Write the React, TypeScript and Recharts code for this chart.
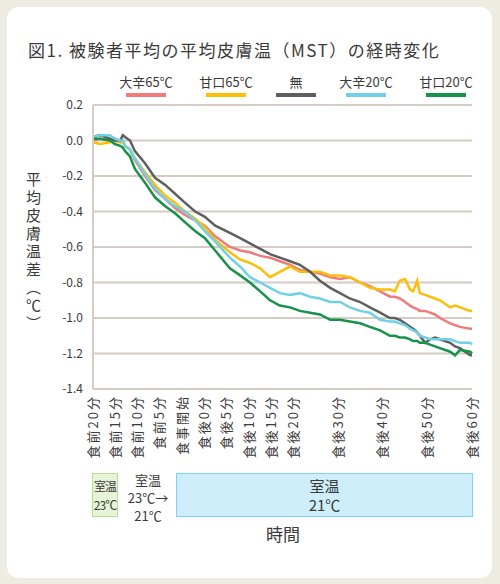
import React from 'react';
import { CartesianGrid, Line, LineChart, XAxis, YAxis } from 'recharts';

// sample times, minutes from 食前20分 (食事開始 = 20, 食後0分 = 25)
const minutes = [
	0, 1.6, 3.8, 4.9, 6.1, 6.7, 7.2, 8.3, 9.4, 11.7, 13.9, 16.2, 18.4, 20.6, 22.9, 25.1, 27.4,
	30.7, 33.0, 35.2, 37.5, 39.7, 41.9, 44.2, 46.4, 48.7, 50.9, 53.2, 55.4, 57.6, 59.9, 62.1,
	64.4, 66.6, 67.7, 68.8, 70.0, 71.1, 71.8, 72.7, 73.3, 74.5, 75.6, 76.7, 77.8, 80.1, 81.2,
	82.3, 84.6, 85,
];

const karaHot = [
	0.0, 0.01, 0.0, 0.01, -0.01, 0.0, -0.03, -0.05, -0.11, -0.2, -0.28, -0.33, -0.38, -0.42, -0.45,
	-0.48, -0.54, -0.6, -0.62, -0.63, -0.65, -0.66, -0.68, -0.7, -0.73, -0.74, -0.75, -0.77, -0.78,
	-0.77, -0.8, -0.82, -0.85, -0.88, -0.88, -0.89, -0.91, -0.93, -0.94, -0.95, -0.96, -0.96, -0.97,
	-0.98, -1.0, -1.03, -1.04, -1.05, -1.06, -1.06,
];
const amaHot = [
	-0.01, -0.02, -0.01, 0.0, -0.01, -0.01, -0.03, -0.05, -0.1, -0.18, -0.25, -0.31, -0.35, -0.4,
	-0.44, -0.49, -0.56, -0.63, -0.67, -0.69, -0.72, -0.77, -0.74, -0.71, -0.74, -0.74, -0.74, -0.76,
	-0.76, -0.77, -0.8, -0.83, -0.84, -0.84, -0.85, -0.79, -0.78, -0.84, -0.85, -0.79, -0.86, -0.87,
	-0.88, -0.89, -0.9, -0.94, -0.93, -0.94, -0.96, -0.96,
];
const none = [
	0.02, 0.03, 0.01, 0.0, 0.0, 0.03, 0.02, 0.0, -0.06, -0.13, -0.21, -0.25, -0.3, -0.35, -0.4, -0.43,
	-0.48, -0.52, -0.55, -0.58, -0.61, -0.64, -0.66, -0.68, -0.7, -0.74, -0.79, -0.83, -0.86, -0.89,
	-0.91, -0.94, -0.97, -1.0, -1.0, -1.01, -1.03, -1.05, -1.06, -1.08, -1.1, -1.14, -1.12, -1.11,
	-1.12, -1.14, -1.16, -1.17, -1.21, -1.21,
];
const karaCold = [
	0.02, 0.03, 0.03, 0.01, 0.0, 0.0, -0.03, -0.05, -0.1, -0.19, -0.27, -0.33, -0.37, -0.4, -0.45,
	-0.51, -0.57, -0.66, -0.71, -0.77, -0.8, -0.83, -0.86, -0.87, -0.86, -0.88, -0.89, -0.91, -0.91,
	-0.94, -0.96, -0.97, -1.01, -1.02, -1.02, -1.03, -1.04, -1.06, -1.07, -1.08, -1.1, -1.11, -1.12,
	-1.12, -1.12, -1.12, -1.13, -1.14, -1.14, -1.15,
];
const amaCold = [
	0.01, 0.01, 0.0, -0.02, -0.03, -0.04, -0.06, -0.09, -0.16, -0.24, -0.32, -0.37, -0.41, -0.46,
	-0.51, -0.55, -0.62, -0.72, -0.76, -0.8, -0.85, -0.9, -0.93, -0.94, -0.96, -0.97, -0.98, -1.01,
	-1.01, -1.02, -1.03, -1.05, -1.07, -1.1, -1.1, -1.11, -1.11, -1.12, -1.13, -1.13, -1.14, -1.14,
	-1.15, -1.16, -1.17, -1.19, -1.21, -1.18, -1.19, -1.2,
];

const xTicks = [0, 5, 10, 15, 20, 25, 30, 35, 40, 45, 55, 65, 75, 85];
const xLabels = [
	'食前20分', '食前15分', '食前10分', '食前5分', '食事開始', '食後0分', '食後5分',
	'食後10分', '食後15分', '食後20分', '食後30分', '食後40分', '食後50分', '食後60分',
];
const yTicks = [0.2, 0, -0.2, -0.4, -0.6, -0.8, -1.0, -1.2, -1.4];

const series = [
	{ key: 'karaHot', name: '大辛65℃', color: '#f07b7b', values: karaHot, cx: 146 },
	{ key: 'amaHot', name: '甘口65℃', color: '#fbbf0a', values: amaHot, cx: 226 },
	{ key: 'none', name: '無', color: '#5f5f5f', values: none, cx: 296 },
	{ key: 'karaCold', name: '大辛20℃', color: '#6fd0e8', values: karaCold, cx: 366 },
	{ key: 'amaCold', name: '甘口20℃', color: '#16924a', values: amaCold, cx: 446 },
];

const data = minutes.map((t, i) => {
	const row: Record<string, number> = { t };
	series.forEach((s) => {
		row[s.key] = s.values[i];
	});
	return row;
});

const FONT = '"Noto Sans CJK JP", "Noto Sans", sans-serif';
const INK = '#3a3a3a';
const GRID = '#d5ccc4';

const XTick = (props: any) => {
	const { x, y, payload } = props;
	const label = xLabels[xTicks.indexOf(payload.value)];
	return (
		<text
			x={x}
			y={y}
			transform={`rotate(-90 ${x} ${y})`}
			textAnchor="end"
			dy="0.35em"
			fontSize={13}
			fontFamily={FONT}
			fill={INK}
			style={{ letterSpacing: 2 }}
		>
			{label}
		</text>
	);
};

const abs = (style: React.CSSProperties): React.CSSProperties => ({
	position: 'absolute',
	fontFamily: FONT,
	color: INK,
	...style,
});

export default function App() {
	return (
		<div style={{ position: 'absolute', left: 0, top: 0, width: 500, height: 584, background: '#eeebe0' }}>
			<div style={abs({ left: 7, top: 7, width: 485, height: 571, background: '#fff', borderRadius: 12 })} />

			<div style={abs({ left: 0, top: 0 })}>
				<LineChart
					width={500}
					height={584}
					data={data}
					margin={{ top: 105, right: 28, bottom: 125, left: 33 }}
				>
					<CartesianGrid vertical={false} stroke={GRID} strokeWidth={2} />
					<XAxis
						dataKey="t"
						type="number"
						domain={[0, 85]}
						ticks={xTicks}
						interval={0}
						height={70}
						axisLine={false}
						tickLine={false}
						tickSize={0}
						tickMargin={6}
						tick={<XTick />}
					/>
					<YAxis
						type="number"
						domain={[-1.4, 0.2]}
						ticks={yTicks}
						interval={0}
						width={60}
						axisLine={{ stroke: GRID, strokeWidth: 2 }}
						tickLine={false}
						tickSize={0}
						tickMargin={10}
						tickFormatter={(v: number) => v.toFixed(1)}
						tick={{ fontSize: 12, fill: INK, fontFamily: FONT }}
					/>
					{series.map((s) => (
						<Line
							key={s.key}
							dataKey={s.key}
							name={s.name}
							type="linear"
							stroke={s.color}
							strokeWidth={2.5}
							dot={false}
							isAnimationActive={false}
						/>
					))}
				</LineChart>
			</div>

			<div
				style={abs({
					left: 28,
					top: 40,
					fontSize: 17,
					lineHeight: '20px',
					letterSpacing: 1.5,
					whiteSpace: 'nowrap',
				})}
			>
				図1. 被験者平均の平均皮膚温（MST）の経時変化
			</div>

			{series.map((s) => (
				<React.Fragment key={s.key}>
					<div
						style={abs({
							left: s.cx - 40,
							top: 75,
							width: 80,
							textAlign: 'center',
							fontSize: 13,
							lineHeight: '14px',
						})}
					>
						{s.name}
					</div>
					<div style={abs({ left: s.cx - 20, top: 93, width: 40, height: 3.5, background: s.color })} />
				</React.Fragment>
			))}

			<div
				style={abs({
					left: 25,
					top: 172,
					writingMode: 'vertical-rl',
					fontSize: 15,
					letterSpacing: 3,
					lineHeight: '16px',
				})}
			>
				平均皮膚温差（℃）
			</div>

			<div
				style={abs({
					left: 92,
					top: 473,
					width: 26,
					height: 44,
					boxSizing: 'border-box',
					background: '#e8f4d8',
					border: '1.5px solid #b8dc90',
					display: 'flex',
					flexDirection: 'column',
					alignItems: 'center',
					justifyContent: 'center',
					fontSize: 12,
					lineHeight: '19px',
					letterSpacing: -1,
				})}
			>
				<span>室温</span>
				<span>23℃</span>
			</div>

			{['室温', '23℃→', '21℃'].map((line, i) => (
				<div
					key={line}
					style={abs({
						left: 118,
						top: 471 + i * 18,
						width: 60,
						height: 17,
						textAlign: 'center',
						fontSize: 13,
						lineHeight: '17px',
					})}
				>
					{line}
				</div>
			))}

			<div
				style={abs({
					left: 176,
					top: 473,
					width: 297,
					height: 44,
					boxSizing: 'border-box',
					background: '#cdeefa',
					border: '1.5px solid #7dd4f3',
					display: 'flex',
					flexDirection: 'column',
					alignItems: 'center',
					justifyContent: 'center',
					fontSize: 15,
					lineHeight: '19px',
				})}
			>
				<span>室温</span>
				<span>21℃</span>
			</div>

			<div style={abs({ left: 243, top: 524, width: 80, textAlign: 'center', fontSize: 17, lineHeight: '20px' })}>
				時間
			</div>
		</div>
	);
}
